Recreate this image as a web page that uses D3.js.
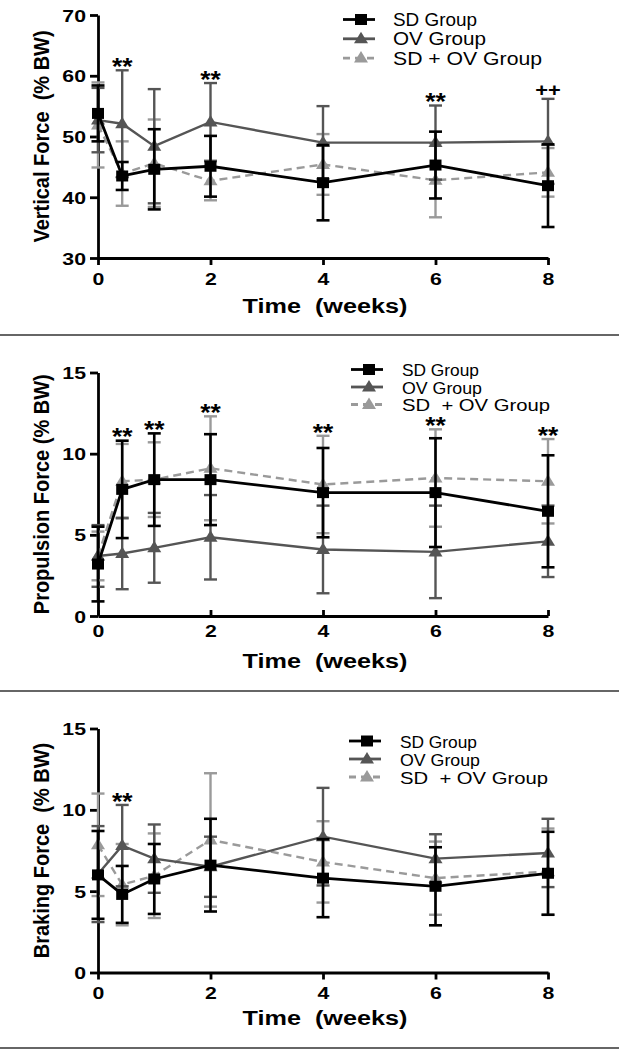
<!DOCTYPE html>
<html><head><meta charset="utf-8">
<script src="https://cdn.jsdelivr.net/npm/d3@7"></script>
<style>
body{margin:0;background:#fff}
svg{display:block}
text{font-family:"Liberation Sans",Arial,Helvetica,sans-serif}
</style>
</head><body>
<svg id="chart" width="619" height="1050"></svg>
<script>
// ---------- DATA ----------
const weeks = [0, 0.43, 1, 2, 4, 6, 8];
const weekTicks = [0, 2, 4, 6, 8];
const seriesKeys = ["SD", "OV", "SDOV"];
const legendLabelsTop = ["SD Group", "OV Group", "SD + OV Group"];
const legendLabelsLower = ["SD Group", "OV Group", "SD  + OV Group"];

// Vertical force (%BW)
const verticalTicks = [30, 40, 50, 60, 70];
const verticalSD = [53.8, 43.5, 44.6, 45.1, 42.4, 45.3, 41.9];
const verticalSDErr = [4.6, 2.3, 6.6, 5.0, 6.2, 5.5, 6.8];
const verticalOV = [52.7, 52.1, 48.4, 52.4, 49.0, 49.0, 49.2];
const verticalOVErr = [5.3, 8.8, 9.4, 6.4, 6.0, 6.1, 7.0];
const verticalSDOV = [51.9, 43.9, 45.6, 42.7, 45.4, 42.8, 44.1];
const verticalSDOVErr = [7.0, 5.3, 7.2, 3.2, 5.0, 6.1, 4.0];
const verticalMarkWeeks = [0.43, 2, 6, 8];
const verticalMarkLabels = ["**", "**", "**", "++"];

// Propulsion force (%BW)
const forceTicks = [0, 5, 10, 15];
const propulsionSD = [3.2, 7.8, 8.4, 8.4, 7.6, 7.6, 6.45];
const propulsionSDErr = [2.3, 3.0, 2.85, 2.8, 2.75, 3.35, 3.45];
const propulsionOV = [3.7, 3.85, 4.2, 4.85, 4.1, 3.95, 4.6];
const propulsionOVErr = [1.9, 2.2, 2.15, 2.6, 2.7, 2.85, 2.2];
const propulsionSDOV = [3.7, 8.3, 8.4, 9.1, 8.1, 8.5, 8.3];
const propulsionSDOVErr = [1.5, 2.3, 2.3, 3.2, 3.0, 3.0, 2.6];
const propulsionMarkWeeks = [0.43, 1, 2, 4, 6, 8];
const propulsionMarkLabels = ["**", "**", "**", "**", "**", "**"];

// Braking force (%BW)
const brakingSD = [6.0, 4.8, 5.75, 6.6, 5.8, 5.3, 6.1];
const brakingSDErr = [2.7, 1.75, 2.15, 2.85, 2.4, 2.4, 2.55];
const brakingOV = [6.05, 7.8, 7.0, 6.5, 8.35, 7.0, 7.35];
const brakingOVErr = [2.95, 2.5, 2.1, 1.85, 3.0, 1.5, 2.1];
const brakingSDOV = [7.85, 5.4, 5.95, 8.15, 6.8, 5.8, 6.2];
const brakingSDOVErr = [3.15, 2.5, 2.6, 4.1, 2.5, 2.25, 2.65];
const brakingMarkWeeks = [0.43];
const brakingMarkLabels = ["**"];

// ---------- STYLE ----------
const styles = {
  SD:   {color: "#000000", width: 2.8, dash: null, marker: "square", errW: 2.6},
  OV:   {color: "#555555", width: 2.4, dash: null, marker: "triangle", errW: 2.4},
  SDOV: {color: "#9a9a9a", width: 2.4, dash: "8,5", marker: "triangle", errW: 2.4}
};
const drawOrder = ["SDOV", "OV", "SD"];
const SX = 1.25; // horizontal stretch of the original figure

const svg = d3.select("#chart");
svg.append("rect").attr("width", 619).attr("height", 1050).attr("fill", "#fff");

const x = d3.scaleLinear().domain([0, 8]).range([98, 548]);

function markerPath(type) {
  if (type === "square") return "M-6,-5.5H6V5.5H-6Z";
  return "M0,-7L7,4.5H-7Z";
}

function drawPanel(cfg) {
  const y = d3.scaleLinear().domain(cfg.domain).range([cfg.bottom, cfg.top]);
  const g = svg.append("g");

  // axes
  const yAxis = d3.axisLeft(y).tickValues(cfg.yTicks).tickSizeInner(8).tickSizeOuter(0).tickFormat(d3.format("d"));
  const gy = g.append("g").attr("transform", `translate(${x(0)},0)`).call(yAxis);
  const xAxis = d3.axisBottom(x).tickValues(weekTicks).tickSizeInner(cfg.xTickIn ? -6 : 7).tickSizeOuter(0).tickFormat(d3.format("d"));
  const gx = g.append("g").attr("transform", `translate(0,${cfg.bottom})`).call(xAxis);
  [gy, gx].forEach(a => {
    a.select(".domain").attr("stroke", "#000").attr("stroke-width", 2.8);
    a.selectAll(".tick line").attr("stroke", "#000").attr("stroke-width", 2.8);
    a.selectAll(".tick text").attr("fill", "#000").style("font-size", "17px").style("font-weight", "bold");
  });
  gy.selectAll(".tick text").attr("x", 0).attr("dy", "0.36em")
    .attr("transform", `translate(-12,0) scale(${SX},1)`);
  gx.selectAll(".tick text").attr("y", 0).attr("dy", null)
    .attr("transform", `translate(0,${cfg.xLabelDy}) scale(${SX},1)`);

  // axis titles
  g.append("text").attr("transform", `translate(325,${cfg.xTitleY}) scale(1.2,1)`)
    .attr("text-anchor", "middle").style("font-size", "21px").style("font-weight", "bold")
    .attr("xml:space", "preserve").text("Time  (weeks)");
  g.append("text").attr("transform", `translate(49,${(cfg.top + cfg.bottom) / 2}) scale(1.1,1) rotate(-90)`)
    .attr("text-anchor", "middle").style("font-size", "20px").style("font-weight", "bold")
    .attr("xml:space", "preserve").text(cfg.yTitle);

  // series
  drawOrder.forEach(k => {
    const st = styles[k];
    const vals = cfg.series[k].v, errs = cfg.series[k].e;
    const pts = weeks.map((w, i) => ({w, v: vals[i], e: errs[i]}));
    const sg = g.append("g");
    // error bars
    const eb = sg.selectAll(".eb").data(pts).enter().append("g");
    eb.append("line").attr("x1", d => x(d.w)).attr("x2", d => x(d.w))
      .attr("y1", d => y(d.v - d.e)).attr("y2", d => y(d.v + d.e))
      .attr("stroke", st.color).attr("stroke-width", st.errW);
    [-1, 1].forEach(s => {
      eb.append("line").attr("x1", d => x(d.w) - 6.5).attr("x2", d => x(d.w) + 6.5)
        .attr("y1", d => y(d.v + s * d.e)).attr("y2", d => y(d.v + s * d.e))
        .attr("stroke", st.color).attr("stroke-width", st.errW);
    });
    // line
    sg.append("path").datum(pts)
      .attr("d", d3.line().x(d => x(d.w)).y(d => y(d.v)))
      .attr("fill", "none").attr("stroke", st.color).attr("stroke-width", st.width)
      .attr("stroke-dasharray", st.dash);
    // markers
    sg.selectAll(".mk").data(pts).enter().append("path")
      .attr("d", markerPath(st.marker))
      .attr("transform", d => `translate(${x(d.w)},${y(d.v)})`)
      .attr("fill", st.color);
  });

  // significance marks
  cfg.marks.weeks.forEach((w, i) => {
    const idx = weeks.indexOf(w);
    const top = d3.min(seriesKeys, k => y(cfg.series[k].v[idx] + cfg.series[k].e[idx]));
    const lab = cfg.marks.labels[i];
    const cy = top - 9;
    const fs = lab === "**" ? 23 : 19;
    const base = lab === "**" ? cy + 0.6 * fs : cy + 0.33 * fs;
    g.append("text").attr("transform", `translate(${x(w)},${base}) scale(1.15,1)`)
      .attr("text-anchor", "middle").style("font-size", fs + "px").style("font-weight", "bold")
      .attr("fill", "#000").text(lab);
  });

  // legend
  const L = cfg.legend;
  seriesKeys.forEach((k, i) => {
    const st = styles[k];
    const ly = L.y + i * L.dy;
    const lg = g.append("g");
    lg.append("line").attr("x1", L.x0).attr("x2", L.x1).attr("y1", ly).attr("y2", ly)
      .attr("stroke", st.color).attr("stroke-width", 2.8).attr("stroke-dasharray", st.dash ? "7,5" : null);
    lg.append("path").attr("d", markerPath(st.marker))
      .attr("transform", `translate(${(L.x0 + L.x1) / 2 + 2},${ly})`).attr("fill", st.color);
    lg.append("text").attr("x", L.tx).attr("y", ly + 6.5)
      .attr("xml:space", "preserve")
      .attr("textLength", L.widths[i]).attr("lengthAdjust", "spacingAndGlyphs")
      .style("font-size", L.fs + "px").attr("fill", "#000").text(L.labels[i]);
  });
}

drawPanel({
  domain: [30, 70], top: 15, bottom: 258, yTicks: verticalTicks,
  yTitle: "Vertical Force  (% BW)", xTickIn: false, xLabelDy: 27, xTitleY: 313,
  series: {SD: {v: verticalSD, e: verticalSDErr}, OV: {v: verticalOV, e: verticalOVErr}, SDOV: {v: verticalSDOV, e: verticalSDOVErr}},
  marks: {weeks: verticalMarkWeeks, labels: verticalMarkLabels},
  legend: {x0: 343, x1: 375, tx: 393, y: 19.5, dy: 19.3, fs: 17.5, labels: legendLabelsTop, widths: [84, 93, 149]}
});
drawPanel({
  domain: [0, 15], top: 372.5, bottom: 616, yTicks: forceTicks,
  yTitle: "Propulsion Force (% BW)", xTickIn: true, xLabelDy: 21, xTitleY: 668,
  series: {SD: {v: propulsionSD, e: propulsionSDErr}, OV: {v: propulsionOV, e: propulsionOVErr}, SDOV: {v: propulsionSDOV, e: propulsionSDOVErr}},
  marks: {weeks: propulsionMarkWeeks, labels: propulsionMarkLabels},
  legend: {x0: 351, x1: 383, tx: 402, y: 369.5, dy: 17.5, fs: 16.5, labels: legendLabelsLower, widths: [77, 80, 148]}
});
drawPanel({
  domain: [0, 15], top: 728.5, bottom: 972.5, yTicks: forceTicks,
  yTitle: "Braking Force  (% BW)", xTickIn: false, xLabelDy: 26.5, xTitleY: 1025,
  series: {SD: {v: brakingSD, e: brakingSDErr}, OV: {v: brakingOV, e: brakingOVErr}, SDOV: {v: brakingSDOV, e: brakingSDOVErr}},
  marks: {weeks: brakingMarkWeeks, labels: brakingMarkLabels},
  legend: {x0: 349, x1: 381, tx: 400, y: 741, dy: 18, fs: 16.5, labels: legendLabelsLower, widths: [77, 80, 148]}
});

// panel separators
[335, 691, 1048].forEach(yy => {
  svg.append("line").attr("x1", 0).attr("x2", 619).attr("y1", yy).attr("y2", yy)
    .attr("stroke", "#333").attr("stroke-width", 1.6);
});
</script>
</body></html>
